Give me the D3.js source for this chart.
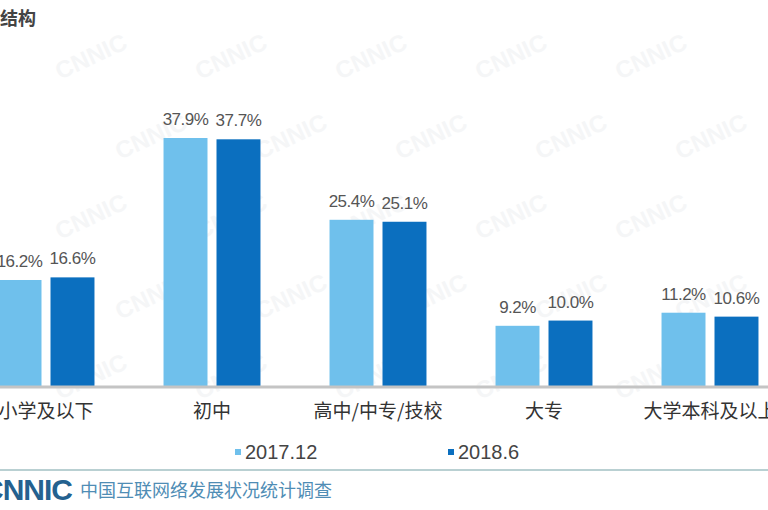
<!DOCTYPE html>
<html>
<head>
<meta charset="utf-8">
<script src="https://cdn.jsdelivr.net/npm/d3@7"></script>
<style>
  html, body { margin: 0; padding: 0; background: #fff; }
  svg { display: block; }
</style>
</head>
<body>
<script>
const categories = ["小学及以下", "初中", "高中/中专/技校", "大专", "大学本科及以上"];
const seriesNames = ["2017.12", "2018.6"];
const values2017 = [16.2, 37.9, 25.4, 9.2, 11.2];
const values2018 = [16.6, 37.7, 25.1, 10.0, 10.6];
const seriesColors = ["#6fc0ec", "#0b6fbf"];
const titleText = "结构";
const footerText = "中国互联网络发展状况统计调查";
const logoText = "CNNIC";

const W = 768, H = 510;
const svg = d3.select("body").append("svg").attr("width", W).attr("height", H);

// faint watermark
const wm = svg.append("g");
for (let r = 0; r < 5; r++) {
  for (let c = 0; c < 5; c++) {
    const wx = 60 + c * 140 + (r % 2) * 60;
    const wy = 80 + r * 80;
    wm.append("text")
      .attr("x", wx).attr("y", wy)
      .attr("transform", `rotate(-25 ${wx} ${wy})`)
      .attr("font-family", "Liberation Sans, Arial, sans-serif")
      .attr("font-size", 24)
      .attr("font-weight", "bold")
      .attr("fill", "#f5f6f7")
      .text(logoText);
  }
}

const baseY = 386;
const y = d3.scaleLinear().domain([0, 37.9]).range([baseY, 138]);

const x0 = d3.scaleBand().domain(categories).range([-37, 793])
  .paddingInner(0.416).paddingOuter(0.208);
const x1 = d3.scaleBand().domain(seriesNames).range([0, x0.bandwidth()]).paddingInner(0.17);

const data = categories.map((c, i) => ({
  cat: c,
  vals: [
    { s: seriesNames[0], v: values2017[i], color: seriesColors[0] },
    { s: seriesNames[1], v: values2018[i], color: seriesColors[1] }
  ]
}));

// title
svg.append("text").attr("x", 0).attr("y", 25)
  .attr("font-family", "Noto Sans CJK SC, sans-serif")
  .attr("font-size", 18).attr("font-weight", "bold").attr("fill", "#444")
  .text(titleText);

const groups = svg.append("g").selectAll("g").data(data).join("g")
  .attr("transform", d => `translate(${x0(d.cat)},0)`);

groups.selectAll("rect").data(d => d.vals).join("rect")
  .attr("x", d => x1(d.s))
  .attr("y", d => y(d.v))
  .attr("width", x1.bandwidth())
  .attr("height", d => baseY - y(d.v))
  .attr("fill", d => d.color);

groups.selectAll("text.val").data(d => d.vals).join("text")
  .attr("class", "val")
  .attr("x", d => x1(d.s) + x1.bandwidth() / 2)
  .attr("y", d => y(d.v) - 13)
  .attr("text-anchor", "middle")
  .attr("font-family", "Liberation Sans, Arial, sans-serif")
  .attr("font-size", 17).attr("fill", "#555")
  .attr("letter-spacing", -0.5)
  .text(d => d.v.toFixed(1) + "%");

// axis line
svg.append("line").attr("x1", 0).attr("x2", W).attr("y1", baseY + 1).attr("y2", baseY + 1)
  .attr("stroke", "#c4c4c4").attr("stroke-width", 3);

// category labels
const xAxis = d3.axisBottom(x0).tickSize(0).tickPadding(0);
const axG = svg.append("g").attr("transform", `translate(0,${baseY + 32})`).call(xAxis);
axG.select(".domain").remove();
axG.selectAll("text")
  .attr("dy", 0)
  .attr("font-family", "Noto Sans CJK SC, sans-serif")
  .attr("font-size", 19).attr("fill", "#333");

// legend
const legendX = [235, 448];
const lg = svg.append("g").selectAll("g").data(seriesNames).join("g")
  .attr("transform", (d, i) => `translate(${legendX[i]},452)`);
lg.append("rect").attr("x", 0).attr("y", -3).attr("width", 6).attr("height", 6)
  .attr("fill", (d, i) => seriesColors[i]);
lg.append("text").attr("x", 10).attr("y", 7)
  .attr("font-family", "Liberation Sans, Arial, sans-serif")
  .attr("font-size", 20).attr("fill", "#444")
  .text(d => d);

// footer line
svg.append("line").attr("x1", 0).attr("x2", W).attr("y1", 470).attr("y2", 470)
  .attr("stroke", "#b9d0d2").attr("stroke-width", 2);

// logo
svg.append("text").attr("x", 72).attr("y", 500).attr("text-anchor", "end")
  .attr("font-family", "Liberation Sans, Arial, sans-serif")
  .attr("font-size", 30).attr("font-weight", "bold").attr("fill", "#24618f")
  .attr("letter-spacing", -1)
  .text(logoText);

svg.append("text").attr("x", 80).attr("y", 497)
  .attr("font-family", "Noto Sans CJK SC, sans-serif")
  .attr("font-size", 18).attr("fill", "#4f8db5")
  .text(footerText);
</script>
</body>
</html>
